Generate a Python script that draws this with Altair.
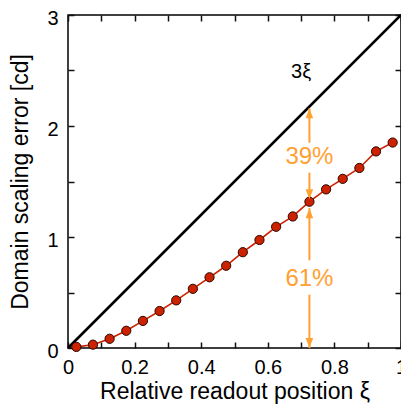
import altair as alt
import pandas as pd

# Data
xi = [0.025, 0.075, 0.125, 0.175, 0.225, 0.275, 0.325, 0.375, 0.425, 0.475,
      0.525, 0.575, 0.625, 0.675, 0.725, 0.775, 0.825, 0.875, 0.925, 0.975]
err = [0.01, 0.03, 0.083, 0.155, 0.244, 0.333, 0.429, 0.533, 0.637, 0.741,
       0.863, 0.973, 1.092, 1.185, 1.318, 1.429, 1.524, 1.622, 1.771, 1.851]
ref_x = [0.0, 1.0]
ref_y = [0.0, 3.0]

arrow_x = 0.725
seg_y1 = [2.16, 1.58, 1.26, 0.48]
seg_y2 = [1.85, 1.34, 0.79, 0.0]
head_up_y = [2.16, 1.26]
head_down_y = [1.34, 0.0]

labels_text = ["39%", "61%"]
labels_y = [1.72, 0.625]
ref_label = "3ξ"
ref_label_x = 0.70
ref_label_y = 2.49

x_ticks = [round(i * 0.1, 1) for i in range(11)]
y_ticks = [i * 0.5 for i in range(7)]

ORANGE = "#ffa033"
RED = "#cc2200"
FONT = "Liberation Sans"

xs = alt.Scale(domain=[0, 1], nice=False, zero=False)
ys = alt.Scale(domain=[0, 3], nice=False, zero=False)

tick_common = dict(domain=False, tickSize=alt.ExprRef(expr="-6"),
                   tickColor="#111111", tickWidth=1.5, grid=False, labelFont=FONT,
                   titleFont=FONT, labelColor="black", titleColor="black",
                   titleFontWeight="normal", labelOverlap=False)

x_bottom = alt.Axis(orient="bottom", values=x_ticks, title="Relative readout position ξ",
                    labelExpr="abs(datum.value*5 - round(datum.value*5)) < 0.01 ? format(datum.value, '~g') : ''",
                    labelFontSize=20, titleFontSize=23, labelPadding=15, titlePadding=3,
                    labelFlush=False, **tick_common)
y_left = alt.Axis(orient="left", values=y_ticks, title="Domain scaling error [cd]",
                  labelExpr="datum.value % 1 == 0 ? format(datum.value, '~g') : ''",
                  labelFontSize=20, titleFontSize=23, labelPadding=16, titlePadding=14,
                  labelOffset=3, **tick_common)
x_top = alt.Axis(orient="top", values=x_ticks, title=None, labels=False, **tick_common)
y_right = alt.Axis(orient="right", values=y_ticks, title=None, labels=False, **tick_common)

ref_df = pd.DataFrame({"x": ref_x, "y": ref_y})
data_df = pd.DataFrame({"x": xi, "y": err})
seg_df = pd.DataFrame({"x": [arrow_x] * len(seg_y1), "y": seg_y1, "y2": seg_y2})
up_df = pd.DataFrame({"x": [arrow_x] * len(head_up_y), "y": head_up_y})
down_df = pd.DataFrame({"x": [arrow_x] * len(head_down_y), "y": head_down_y})
txt_df = pd.DataFrame({"x": [arrow_x] * 2, "y": labels_y, "t": labels_text})
ref_txt_df = pd.DataFrame({"x": [ref_label_x], "y": [ref_label_y], "t": [ref_label]})

diag = alt.Chart(ref_df).mark_line(color="black", strokeWidth=2.6).encode(
    x=alt.X("x:Q", scale=xs, axis=x_bottom),
    y=alt.Y("y:Q", scale=ys, axis=y_left),
)

red_line = alt.Chart(data_df).mark_line(color=RED, strokeWidth=1.6).encode(
    x=alt.X("x:Q", scale=xs, axis=x_top),
    y=alt.Y("y:Q", scale=ys, axis=y_right),
)

red_pts = alt.Chart(data_df).mark_point(filled=True, fill=RED, stroke="#2a0500",
                                        strokeWidth=1, size=85, opacity=1).encode(
    x=alt.X("x:Q", scale=xs, axis=None),
    y=alt.Y("y:Q", scale=ys, axis=None),
)

segs = alt.Chart(seg_df).mark_rule(color=ORANGE, strokeWidth=2).encode(
    x=alt.X("x:Q", scale=xs, axis=None),
    y=alt.Y("y:Q", scale=ys, axis=None),
    y2="y2:Q",
)

up_heads = alt.Chart(up_df).mark_point(shape="M0,0 L-0.75,2 L0.75,2 Z", filled=True,
                                       color=ORANGE, size=100, opacity=1).encode(
    x=alt.X("x:Q", scale=xs, axis=None),
    y=alt.Y("y:Q", scale=ys, axis=None),
)
down_heads = alt.Chart(down_df).mark_point(shape="M0,0 L-0.75,-2 L0.75,-2 Z", filled=True,
                                           color=ORANGE, size=100, opacity=1).encode(
    x=alt.X("x:Q", scale=xs, axis=None),
    y=alt.Y("y:Q", scale=ys, axis=None),
)

pct = alt.Chart(txt_df).mark_text(color=ORANGE, font=FONT, fontSize=24,
                                  align="center", baseline="middle").encode(
    x=alt.X("x:Q", scale=xs, axis=None),
    y=alt.Y("y:Q", scale=ys, axis=None),
    text="t:N",
)

ref_txt = alt.Chart(ref_txt_df).mark_text(color="black", font=FONT, fontSize=20,
                                          align="center", baseline="middle").encode(
    x=alt.X("x:Q", scale=xs, axis=None),
    y=alt.Y("y:Q", scale=ys, axis=None),
    text="t:N",
)

chart = alt.layer(diag, red_line, segs, red_pts, up_heads, down_heads, pct, ref_txt).resolve_axis(
    x="independent", y="independent"
).properties(
    width=333, height=333,
    autosize=alt.AutoSizeParams(type="none"),
    padding={"left": 60, "top": 7, "right": 0, "bottom": 56},
).configure_view(stroke="black", strokeWidth=1.5)

chart.save("out.html", embed_options={"renderer": "svg", "actions": False})
